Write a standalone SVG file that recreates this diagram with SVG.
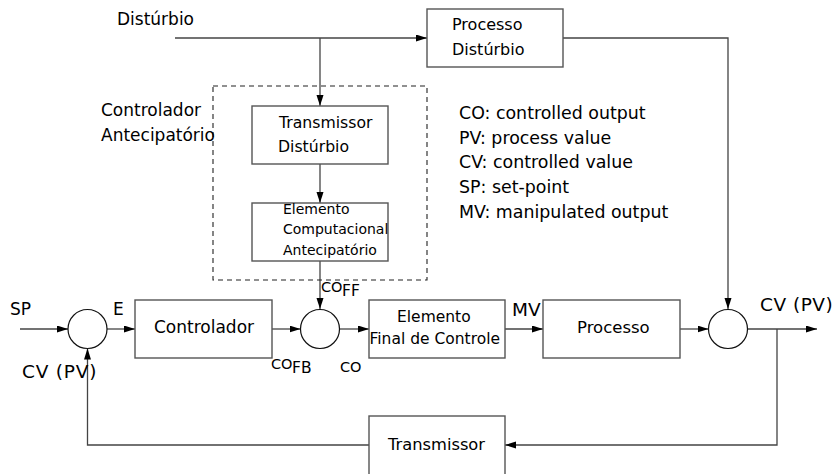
<svg xmlns="http://www.w3.org/2000/svg" width="837" height="474" viewBox="0 0 837 474">
<style>
text{font-family:"DejaVu Sans",sans-serif;fill:#000;}
.box{fill:#fff;stroke:#555;stroke-width:1.4;}
.sum{fill:#fff;stroke:#111;stroke-width:1.2;}
.ln{fill:none;stroke:#444;stroke-width:1.3;}
.arr{marker-end:url(#ah);}
.dash{fill:none;stroke:#222;stroke-width:1.1;stroke-dasharray:5 4;}
</style>
<defs>
<marker id="ah" markerUnits="userSpaceOnUse" markerWidth="12" markerHeight="8" refX="11" refY="3.5" orient="auto">
<path d="M0,0 L11,3.5 L0,7 z" fill="#000"/>
</marker>
</defs>
<rect width="837" height="474" fill="#fff"/>

<g id="connectors">
<path class="ln arr" d="M175,38 H427"/>
<path class="ln arr" d="M320,38 V106"/>
<path class="ln arr" d="M563,38 H728 V309"/>
<path class="ln arr" d="M320,164 V203"/>
<path class="ln arr" d="M320,261 V309"/>
<path class="ln arr" d="M20,329 H68"/>
<path class="ln arr" d="M107,329 H135"/>
<path class="ln arr" d="M272,329 H300.5"/>
<path class="ln arr" d="M339.5,329 H369"/>
<path class="ln arr" d="M505,329 H543"/>
<path class="ln arr" d="M680,329 H708.5"/>
<path class="ln arr" d="M747.5,329 H817"/>
<path class="ln arr" d="M777,329 V445 H505"/>
<path class="ln arr" d="M369,445 H87.5 V348.5"/>
</g>

<g id="feedforward-controller">
<rect class="dash" x="213" y="86" width="214" height="194"/>
<text x="101" y="116" font-size="17">Controlador</text>
<text x="101" y="141" font-size="17">Antecipatório</text>
</g>

<g id="processo-disturbio">
<rect class="box" x="427" y="9" width="136" height="58"/>
<text x="452" y="30" font-size="16">Processo</text>
<text x="452" y="55" font-size="16">Distúrbio</text>
</g>

<g id="disturbio-label">
<text x="117" y="25" font-size="17">Distúrbio</text>
</g>

<g id="transmissor-disturbio">
<rect class="box" x="252" y="106" width="136" height="58"/>
<text x="279" y="128" font-size="15.7">Transmissor</text>
<text x="278" y="152" font-size="15.7">Distúrbio</text>
</g>

<g id="elemento-computacional">
<rect class="box" x="252" y="203" width="136" height="58"/>
<text x="283" y="214" font-size="14">Elemento</text>
<text x="283" y="234" font-size="14">Computacional</text>
<text x="283" y="255" font-size="14">Antecipatório</text>
</g>

<g id="legend">
<text x="459" y="119" font-size="17.4">CO: controlled output</text>
<text x="459" y="143.5" font-size="17.4">PV: process value</text>
<text x="459" y="168" font-size="17.4">CV: controlled value</text>
<text x="459" y="193" font-size="17.4">SP: set-point</text>
<text x="459" y="217.5" font-size="17.4">MV: manipulated output</text>
</g>

<g id="sum1">
<circle class="sum" cx="87.5" cy="329" r="19.5"/>
<text x="10" y="315" font-size="17">SP</text>
<text x="113" y="315" font-size="17">E</text>
<text x="22" y="378" font-size="18.5" letter-spacing="0.8">CV (PV)</text>
</g>

<g id="controlador">
<rect class="box" x="135" y="300" width="137" height="58"/>
<text x="204" y="333" font-size="17" text-anchor="middle">Controlador</text>
<text x="271" y="369" font-size="14.5">CO</text>
<text x="292" y="373" font-size="15.5">FB</text>
</g>

<g id="sum2">
<circle class="sum" cx="320" cy="329" r="19.5"/>
<text x="321" y="292" font-size="14.5">CO</text>
<text x="342" y="296" font-size="15.5">FF</text>
<text x="340" y="372" font-size="14.5">CO</text>
</g>

<g id="elemento-final">
<rect class="box" x="369" y="300" width="136" height="58"/>
<text x="397" y="322" font-size="15.5">Elemento</text>
<text x="369.5" y="344" font-size="15.5">Final de Controle</text>
<text x="512" y="316" font-size="18.5">MV</text>
</g>

<g id="processo">
<rect class="box" x="543" y="300" width="137" height="58"/>
<text x="577" y="333" font-size="16.5">Processo</text>
</g>

<g id="sum3">
<circle class="sum" cx="728" cy="329" r="19.5"/>
<text x="760" y="311" font-size="18.5" letter-spacing="0.5">CV (PV)</text>
</g>

<g id="transmissor">
<rect class="box" x="369" y="416" width="136" height="70"/>
<text x="388" y="450" font-size="16.3">Transmissor</text>
</g>
</svg>
